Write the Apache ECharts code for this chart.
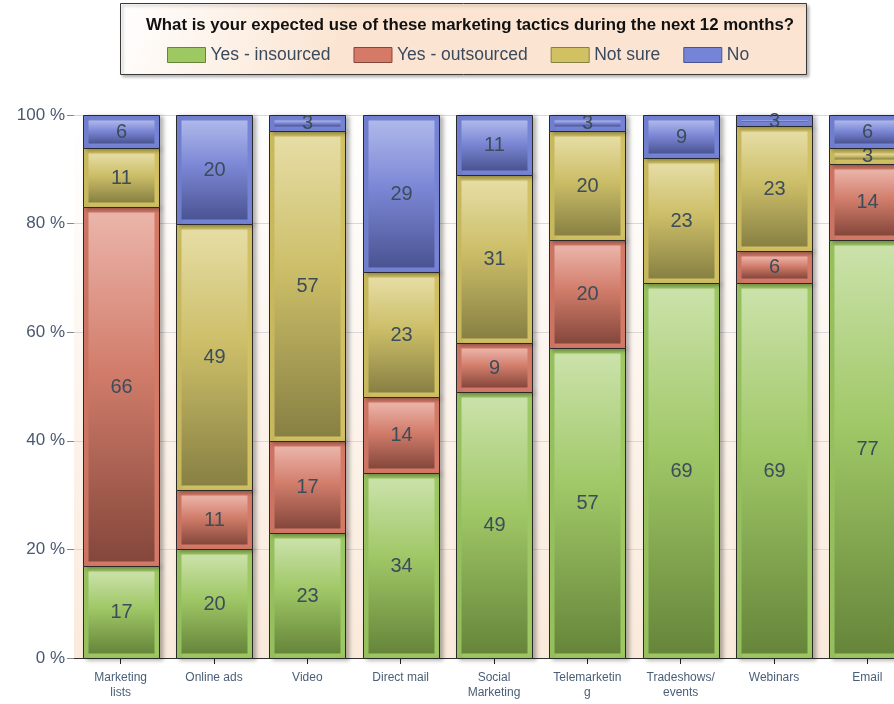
<!DOCTYPE html>
<html>
<head>
<meta charset="utf-8">
<script src="https://cdn.jsdelivr.net/npm/echarts@6/dist/echarts.min.js"></script>
<style>
  html, body { margin: 0; padding: 0; background: #ffffff; }
  #chart { width: 894px; height: 704px; }
</style>
</head>
<body>
<div id="chart"></div>
<script>
// Survey: expected use of marketing tactics during the next 12 months (percent of respondents)
const categories = ['Marketing\nlists', 'Online ads', 'Video', 'Direct mail', 'Social\nMarketing',
  'Telemarketin\ng', 'Tradeshows/\nevents', 'Webinars', 'Email'];
const insourced  = [17, 20, 23, 34, 49, 57, 69, 69, 77];
const outsourced = [66, 11, 17, 14,  9, 20,  0,  6, 14];
const notSure    = [11, 49, 57, 23, 31, 20, 23, 23,  3];
const no         = [ 6, 20,  3, 29, 11,  3,  9,  3,  6];
const seriesNames = ['Yes - insourced', 'Yes - outsourced', 'Not sure', 'No'];
const yTicks = [0, 20, 40, 60, 80, 100];

// Palette per answer: frame colour plus the three stops of the inner shading
const palette = [
  { frame: '#9DC862', light: '#CBE2AA', mid: '#9FC766', dark: '#66853A' },
  { frame: '#D67A68', light: '#EBB5AA', mid: '#D27D6B', dark: '#84473B' },
  { frame: '#D1C162', light: '#E6DDA5', mid: '#CCBE68', dark: '#878043' },
  { frame: '#7684D7', light: '#AFB8EA', mid: '#7C88D6', dark: '#4A5492' }
];

const valueSets = [insourced, outsourced, notSure, no];

// Stacked segments: [category index, base, value]
function buildSegments(k) {
  return categories.map((c, i) => {
    let base = 0;
    for (let j = 0; j < k; j++) base += valueSets[j][i];
    return [i, base, valueSets[k][i]];
  });
}

function makeRenderer(k) {
  const pal = palette[k];
  return function (params, api) {
    const idx = api.value(0);
    const base = api.value(1);
    const v = api.value(2);
    if (!v) return null;
    const top = Math.min(base + v, 100);
    const p0 = api.coord([idx, base]);
    const p1 = api.coord([idx, top]);
    const w = Math.round(api.size([1, 0])[0] * 0.815);
    const x = Math.round(p0[0] - w / 2) + 0.5;
    const y = Math.round(p1[1]) + 0.5;
    const h = Math.round(p0[1]) - Math.round(p1[1]);
    const inset = 5;
    const ih = Math.max(h - 2 * inset, 0);
    const grad = new echarts.graphic.LinearGradient(0, 0, 0, 1, [
      { offset: 0, color: pal.light },
      { offset: 0.45, color: pal.mid },
      { offset: 1, color: pal.dark }
    ]);
    return {
      type: 'group',
      children: [
        {
          type: 'rect',
          shape: { x: x, y: y, width: w, height: h },
          style: {
            fill: pal.frame, stroke: '#2a2a2a', lineWidth: 1,
            shadowColor: 'rgba(0,0,0,0.28)', shadowBlur: 4, shadowOffsetX: 3, shadowOffsetY: 1
          }
        },
        {
          type: 'rect',
          shape: { x: x + inset, y: y + inset, width: w - 2 * inset, height: ih },
          style: { fill: grad }
        },
        {
          type: 'text',
          style: {
            text: String(v),
            x: x + w / 2,
            y: y + h / 2,
            align: 'center',
            verticalAlign: 'middle',
            fill: '#3C4C5A',
            font: '20px "Liberation Sans", Arial, sans-serif'
          }
        }
      ]
    };
  };
}

const series = seriesNames.map((name, k) => ({
  name: name,
  type: 'custom',
  renderItem: makeRenderer(k),
  encode: { x: 0, y: [1, 2] },
  itemStyle: { color: palette[k].frame },
  data: buildSegments(k),
  z: 3
}));

const chart = echarts.init(document.getElementById('chart'), null, { renderer: 'canvas' });

chart.setOption({
  backgroundColor: '#ffffff',
  animation: false,
  graphic: [
    {
      type: 'rect',
      shape: { x: 120.5, y: 3.5, width: 686, height: 71 },
      style: {
        fill: new echarts.graphic.LinearGradient(0, 0, 0.3, 1, [
          { offset: 0, color: '#FFFFFF' },
          { offset: 1, color: '#FBE5D2' }
        ]),
        stroke: '#3a3a3a', lineWidth: 1,
        shadowColor: 'rgba(0,0,0,0.3)', shadowBlur: 3, shadowOffsetX: 2, shadowOffsetY: 2
      },
      z: -1
    }
  ],
  title: {
    text: 'What is your expected use of these marketing tactics during the next 12 months?',
    left: 465,
    textAlign: 'center',
    top: 12,
    textStyle: {
      fontFamily: '"Liberation Sans", Arial, sans-serif',
      fontWeight: 'bold',
      fontSize: 16.8,
      color: '#111111'
    }
  },
  legend: {
    data: seriesNames.map((n, k) => ({
      name: n,
      itemStyle: { color: palette[k].frame, borderColor: palette[k].dark, borderWidth: 1 }
    })),
    left: 162,
    top: 41,
    icon: 'rect',
    itemWidth: 38,
    itemHeight: 15,
    itemGap: 23,
    textStyle: {
      fontFamily: '"Liberation Sans", Arial, sans-serif',
      fontSize: 17.5,
      color: '#3A4A5E'
    }
  },
  grid: {
    show: true,
    left: 74,
    top: 115,
    width: 840,
    bottom: 46,
    outerBoundsMode: 'none',
    containLabel: false,
    borderWidth: 0,
    backgroundColor: {
      type: 'linear', x: 0, y: 0, x2: 0, y2: 1,
      colorStops: [
        { offset: 0, color: '#FFFFFF' },
        { offset: 1, color: '#FAEADB' }
      ]
    }
  },
  xAxis: {
    type: 'category',
    data: categories,
    boundaryGap: true,
    axisLine: { show: true, lineStyle: { color: '#333333', width: 1 } },
    axisTick: { show: true, alignWithLabel: true, length: 6, lineStyle: { color: '#222222' } },
    axisLabel: {
      interval: 0,
      margin: 12,
      fontFamily: '"Liberation Sans", Arial, sans-serif',
      fontSize: 12,
      lineHeight: 15,
      color: '#4A5E78'
    }
  },
  yAxis: {
    type: 'value',
    min: yTicks[0],
    max: yTicks[yTicks.length - 1],
    interval: yTicks[1] - yTicks[0],
    axisLine: { show: false },
    axisTick: { show: true, length: 7, lineStyle: { color: '#888888' } },
    splitLine: { show: true, lineStyle: { color: '#D9D9D9', width: 1 } },
    axisLabel: {
      formatter: '{value} %',
      margin: 9,
      fontFamily: '"Liberation Sans", Arial, sans-serif',
      fontSize: 17,
      color: '#4A5870'
    }
  },
  series: series
});
</script>
</body>
</html>
